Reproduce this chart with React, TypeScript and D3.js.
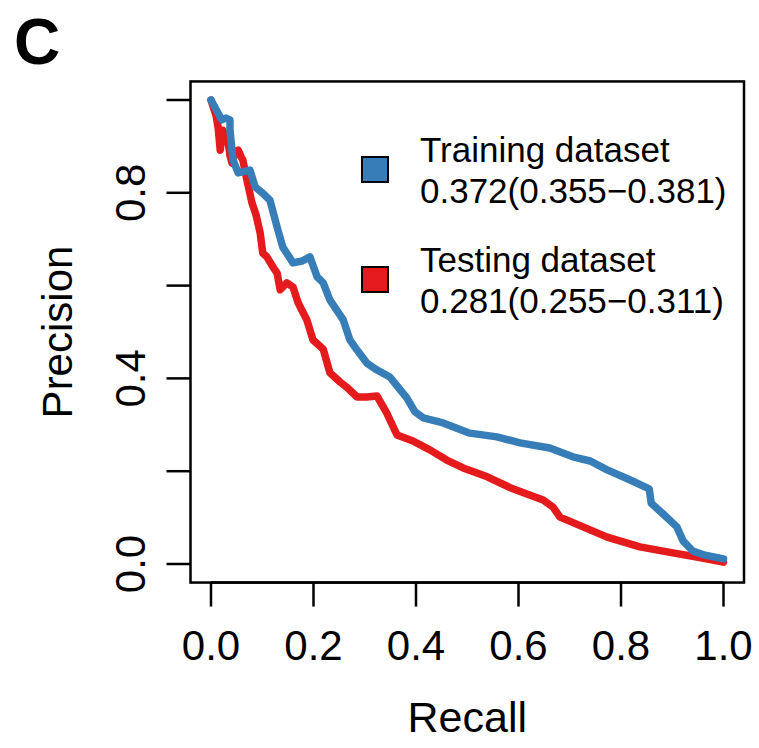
import React from "react";
import * as d3 from "d3";

const trainRecall = [0, 0.021, 0.029, 0.037, 0.037, 0.043, 0.053, 0.062, 0.076, 0.086, 0.1, 0.115, 0.129, 0.14, 0.16, 0.178, 0.193, 0.207, 0.219, 0.232, 0.258, 0.271, 0.285, 0.304, 0.324, 0.349, 0.365, 0.382, 0.398, 0.414, 0.453, 0.505, 0.558, 0.603, 0.661, 0.706, 0.74, 0.773, 0.818, 0.855, 0.859, 0.882, 0.909, 0.921, 0.94, 0.964, 1.0];
const trainPrecision = [1.0, 0.957, 0.961, 0.957, 0.935, 0.871, 0.843, 0.845, 0.849, 0.813, 0.8, 0.784, 0.726, 0.683, 0.649, 0.653, 0.662, 0.619, 0.606, 0.569, 0.526, 0.483, 0.461, 0.433, 0.418, 0.403, 0.381, 0.358, 0.328, 0.315, 0.304, 0.282, 0.274, 0.261, 0.25, 0.231, 0.222, 0.203, 0.181, 0.162, 0.131, 0.108, 0.08, 0.05, 0.028, 0.019, 0.011];

const testRecall = [0, 0.01, 0.014, 0.018, 0.023, 0.033, 0.037, 0.041, 0.047, 0.053, 0.059, 0.062, 0.07, 0.08, 0.088, 0.096, 0.101, 0.109, 0.121, 0.129, 0.135, 0.148, 0.16, 0.17, 0.187, 0.199, 0.219, 0.232, 0.252, 0.265, 0.285, 0.304, 0.324, 0.343, 0.363, 0.394, 0.427, 0.46, 0.492, 0.539, 0.589, 0.648, 0.667, 0.681, 0.726, 0.773, 0.837, 0.901, 0.948, 1.0];
const testPrecision = [1.0, 0.966, 0.94, 0.892, 0.935, 0.914, 0.881, 0.864, 0.888, 0.892, 0.877, 0.871, 0.828, 0.778, 0.752, 0.713, 0.67, 0.662, 0.64, 0.627, 0.591, 0.606, 0.597, 0.563, 0.526, 0.483, 0.463, 0.412, 0.392, 0.381, 0.36, 0.36, 0.362, 0.325, 0.278, 0.265, 0.246, 0.224, 0.207, 0.188, 0.162, 0.138, 0.123, 0.101, 0.08, 0.058, 0.037, 0.024, 0.015, 0.004];

const seriesNames = ["Training dataset", "Testing dataset"];
const seriesStats = ["0.372(0.355\u22120.381)", "0.281(0.255\u22120.311)"];
const seriesColors = ["#377EB8", "#E41A1C"];

const xTicks = [0, 0.2, 0.4, 0.6, 0.8, 1.0];
const yTicks = [0, 0.2, 0.4, 0.6, 0.8, 1.0];
const yTickLabels = [0, 0.4, 0.8];

const FONT = "'Liberation Sans', Arial, Helvetica, sans-serif";

export default function App() {
  const x = d3.scaleLinear().domain([0, 1]).range([211, 723.5]);
  const y = d3.scaleLinear().domain([0, 1]).range([564, 100]);
  const x0 = x(-0.04), x1 = x(1.04), y0 = y(-0.04), y1 = y(1.04);
  const line = d3.line<[number, number]>().x((d) => x(d[0])).y((d) => y(d[1]));
  const trainPts = trainRecall.map((r, i) => [r, trainPrecision[i]] as [number, number]);
  const testPts = testRecall.map((r, i) => [r, testPrecision[i]] as [number, number]);
  const series = [trainPts, testPts];

  return (
    <svg width={759} height={748} style={{ position: "absolute", left: 0, top: 0, background: "#fff" }} fontFamily={FONT}>
      <rect width={759} height={748} fill="#fff" />
      <text x={14} y={64} fontSize={64} fontWeight="bold" fill="#000">C</text>
      {[1, 0].map((i) => (
        <path key={i} d={line(series[i]) || ""} fill="none" stroke={seriesColors[i]} strokeWidth={7.5} strokeLinejoin="round" strokeLinecap="round" />
      ))}
      <rect x={x0} y={y1} width={x1 - x0} height={y0 - y1} fill="none" stroke="#000" strokeWidth={2.5} />
      <line x1={x(0)} x2={x(1)} y1={y0} y2={y0} stroke="#000" strokeWidth={2.5} />
      {xTicks.map((t) => (
        <g key={t}>
          <line x1={x(t)} x2={x(t)} y1={y0} y2={y0 + 24} stroke="#000" strokeWidth={2.5} />
          <text x={x(t)} y={660} fontSize={42} textAnchor="middle" fill="#000">{t.toFixed(1)}</text>
        </g>
      ))}
      <text x={(x(0) + x(1)) / 2} y={732} fontSize={43} textAnchor="middle" fill="#000">Recall</text>
      {yTicks.map((t) => (
        <line key={t} x1={x0 - 24} x2={x0} y1={y(t)} y2={y(t)} stroke="#000" strokeWidth={2.5} />
      ))}
      {yTickLabels.map((t) => (
        <text key={t} transform={`translate(145,${y(t)}) rotate(-90)`} fontSize={42} textAnchor="middle" fill="#000">{t.toFixed(1)}</text>
      ))}
      <text transform={`translate(72,${y(0.5)}) rotate(-90)`} fontSize={42} textAnchor="middle" fill="#000">Precision</text>
      {seriesNames.map((n, i) => (
        <g key={n}>
          <rect x={362} y={157 + i * 110} width={26} height={25} fill={seriesColors[i]} stroke="#000" strokeWidth={2} />
          <text x={420} y={162 + i * 110} fontSize={35} fill="#000">{n}</text>
          <text x={420} y={203 + i * 110} fontSize={35} fill="#000">{seriesStats[i]}</text>
        </g>
      ))}
    </svg>
  );
}
